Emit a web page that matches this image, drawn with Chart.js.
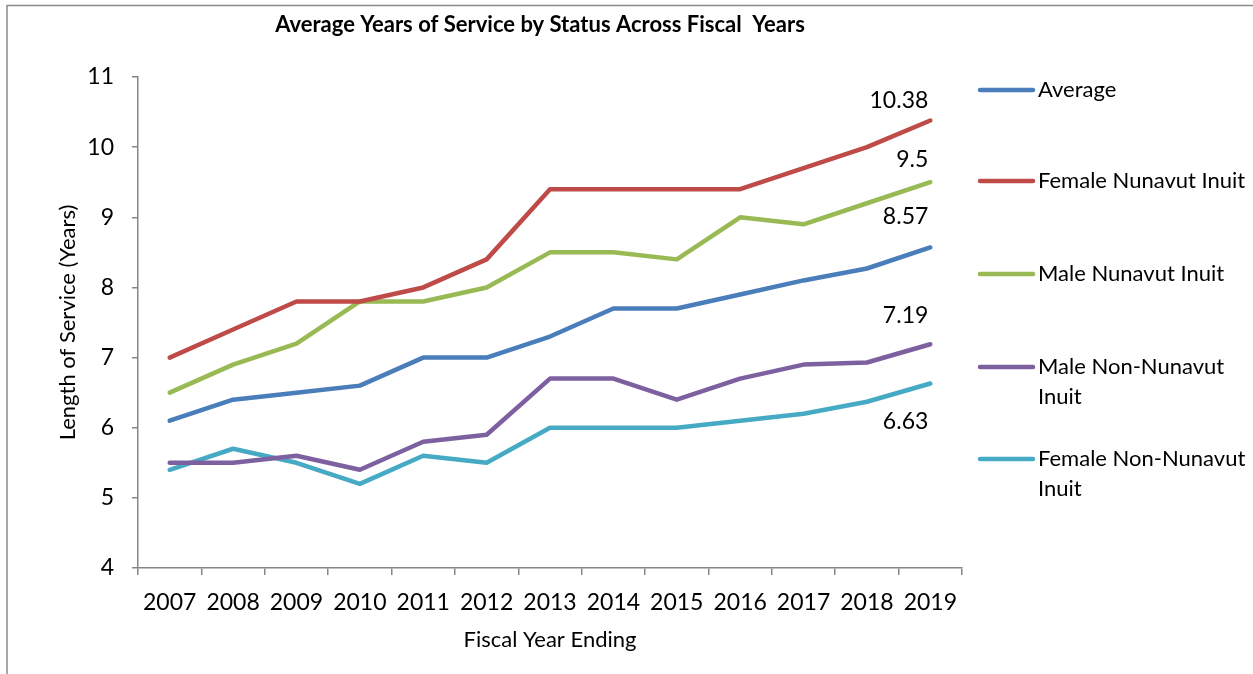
<!DOCTYPE html>
<html>
<head>
<meta charset="utf-8">
<title>Average Years of Service by Status</title>
<script src="https://cdn.jsdelivr.net/npm/chart.js@4"></script>
<style>
    html, body { margin: 0; padding: 0; background: #fff; }
    #wrap { width: 1253px; height: 674px; }
</style>
</head>
<body>
<div id="wrap"><canvas id="chart" width="1253" height="674"></canvas></div>
<script>
// values
const years = ['2007', '2008', '2009', '2010', '2011', '2012', '2013', '2014', '2015', '2016', '2017', '2018', '2019'];
const average = [6.1, 6.4, 6.5, 6.6, 7.0, 7.0, 7.3, 7.7, 7.7, 7.9, 8.1, 8.27, 8.57];
const femaleNunavutInuit = [7.0, 7.4, 7.8, 7.8, 8.0, 8.4, 9.4, 9.4, 9.4, 9.4, 9.7, 10.0, 10.38];
const maleNunavutInuit = [6.5, 6.9, 7.2, 7.8, 7.8, 8.0, 8.5, 8.5, 8.4, 9.0, 8.9, 9.2, 9.5];
const maleNonNunavutInuit = [5.5, 5.5, 5.6, 5.4, 5.8, 5.9, 6.7, 6.7, 6.4, 6.7, 6.9, 6.93, 7.19];
const femaleNonNunavutInuit = [5.4, 5.7, 5.5, 5.2, 5.6, 5.5, 6.0, 6.0, 6.0, 6.1, 6.2, 6.37, 6.63];
const seriesNames = ['Average', 'Female Nunavut Inuit', 'Male Nunavut Inuit', 'Male Non-Nunavut Inuit', 'Female Non-Nunavut Inuit'];
const yTicks = [4, 5, 6, 7, 8, 9, 10, 11];

const colors = ['#4a7ebb', '#be4b48', '#98b954', '#7d60a0', '#46aac5'];
const FONT = 'Lato, "Open Sans", sans-serif';
const AXIS = '#868686';

// legend text wraps like the original
const legendLines = [['Average'], ['Female Nunavut Inuit'], ['Male Nunavut Inuit'], ['Male Non-Nunavut', 'Inuit'], ['Female Non-Nunavut', 'Inuit']];
const legendY = [90, 181, 274, 367, 459];
// last-point label offsets (dy) per series
const endLabelDy = [-31, -20, -23, -29, 38];

const allSeries = [average, femaleNunavutInuit, maleNunavutInuit, maleNonNunavutInuit, femaleNonNunavutInuit];

const decorPlugin = {
    id: 'decor',
    afterDraw(chart) {
        const ctx = chart.ctx;
        ctx.save();

        // frame (left and top edges only, as in the picture)
        ctx.strokeStyle = '#8a8a8a';
        ctx.lineWidth = 1.5;
        ctx.beginPath();
        ctx.moveTo(7, 674);
        ctx.lineTo(7, 5.5);
        ctx.lineTo(1253, 5.5);
        ctx.stroke();

        // chart title
        ctx.fillStyle = '#000';
        ctx.font = 'bold 22px ' + FONT;
        ctx.textAlign = 'center';
        ctx.textBaseline = 'middle';
        ctx.fillText('Average Years of Service by Status Across Fiscal  Years', 540, 25);

        // labels at the last point
        ctx.font = '23px ' + FONT;
        ctx.textAlign = 'right';
        chart.data.datasets.forEach((ds, i) => {
            const meta = chart.getDatasetMeta(i);
            const pt = meta.data[meta.data.length - 1];
            const v = ds.data[ds.data.length - 1];
            ctx.fillText(String(v), pt.x - 2, pt.y + endLabelDy[i]);
        });

        // legend
        ctx.textAlign = 'left';
        ctx.font = '22px ' + FONT;
        ctx.lineCap = 'round';
        chart.data.datasets.forEach((ds, i) => {
            const y = legendY[i];
            ctx.strokeStyle = ds.borderColor;
            ctx.lineWidth = 4.5;
            ctx.beginPath();
            ctx.moveTo(980, y);
            ctx.lineTo(1033, y);
            ctx.stroke();
            ctx.fillStyle = '#000';
            legendLines[i].forEach((t, k) => ctx.fillText(t, 1038, y + k * 30));
        });
        ctx.restore();
    }
};

new Chart(document.getElementById('chart'), {
    type: 'line',
    data: {
        labels: years,
        datasets: allSeries.map((d, i) => ({
            label: seriesNames[i],
            data: d,
            borderColor: colors[i],
            backgroundColor: colors[i],
            borderWidth: 4.5,
            pointRadius: 0,
            tension: 0,
            borderCapStyle: 'round',
            borderJoinStyle: 'round',
            fill: false
        }))
    },
    options: {
        responsive: false,
        animation: false,
        devicePixelRatio: 1,
        layout: { padding: { left: 0, top: 77, right: 291, bottom: 0 } },
        plugins: {
            legend: { display: false },
            title: { display: false },
            tooltip: { enabled: false }
        },
        scales: {
            x: {
                type: 'category',
                offset: true,
                grid: { offset: true, drawOnChartArea: false, drawTicks: true, tickLength: 7, color: AXIS, lineWidth: 1.5 },
                border: { color: AXIS, width: 1.5 },
                ticks: { color: '#000', font: { family: FONT, size: 23 }, padding: 14, maxRotation: 0, autoSkip: false },
                title: { display: true, text: 'Fiscal Year Ending', color: '#000', font: { family: FONT, size: 22 }, padding: { top: 0, bottom: 21 } },
                afterFit: s => { s.height = 106; }
            },
            y: {
                min: 4,
                max: 11,
                afterBuildTicks: s => { s.ticks = yTicks.map(v => ({ value: v })); },
                grid: { drawOnChartArea: false, drawTicks: true, tickLength: 6, color: AXIS, lineWidth: 1.5 },
                border: { color: AXIS, width: 1.5 },
                ticks: { color: '#000', font: { family: FONT, size: 23 }, padding: 18 },
                title: { display: true, text: 'Length of Service (Years)', color: '#000', font: { family: FONT, size: 22 }, padding: { top: 55, bottom: 0 } },
                afterFit: s => { s.width = 138; }
            }
        }
    },
    plugins: [decorPlugin]
});
</script>
</body>
</html>
